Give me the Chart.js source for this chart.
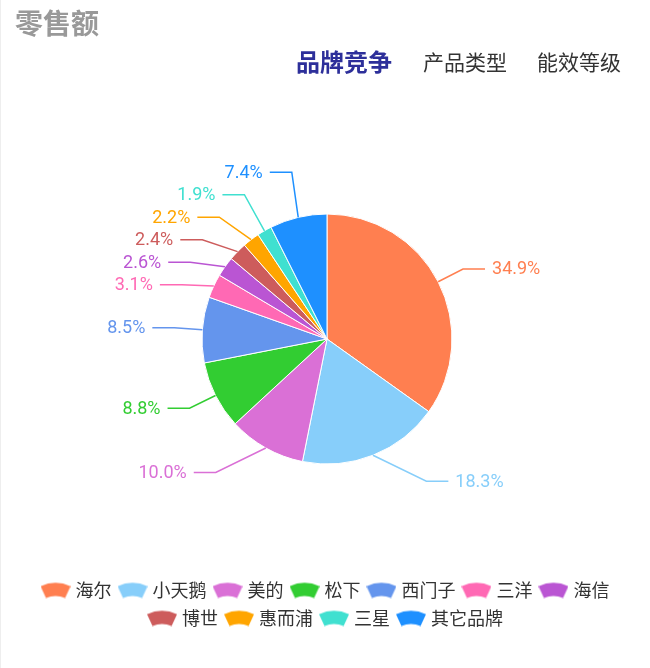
<!DOCTYPE html>
<html>
<head>
<meta charset="utf-8">
<script src="https://cdn.jsdelivr.net/npm/chart.js@4.4.1/dist/chart.umd.min.js"></script>
<style>
  html, body { margin: 0; padding: 0; background: #fff; }
  #wrap { position: relative; width: 650px; height: 668px; border-left: 1px solid #eee; box-sizing: border-box; }
  #chartBox { position: absolute; left: 0; top: 0; width: 650px; height: 668px; }
  .title { position: absolute; left: 14px; top: 8px; font: bold 28px/28px 'Noto Sans CJK SC', sans-serif; color: #999; }
  .tabs { position: absolute; right: 29px; top: 49px; display: flex; gap: 30px; align-items: center; height: 24px;
          font-family: 'Noto Sans CJK SC', sans-serif; color: #333; font-size: 21px; line-height: 24px; }
  .tabs .on { font-size: 24px; font-weight: bold; color: #2d2f9a; margin-right: 1px; }
</style>
</head>
<body>
<div id="wrap">
  <div id="chartBox"><canvas id="pieChart"></canvas></div>
  <div class="title">零售额</div>
  <div class="tabs"><span class="on">品牌竞争</span><span>产品类型</span><span>能效等级</span></div>
</div>
<script>
// 品牌份额（%）
var brands = ['海尔', '小天鹅', '美的', '松下', '西门子', '三洋', '海信', '博世', '惠而浦', '三星', '其它品牌'];
var shares = [34.9, 18.3, 10.0, 8.8, 8.5, 3.1, 2.6, 2.4, 2.2, 1.9, 7.4];
var colors = ['#ff7f50', '#87cefa', '#da70d6', '#32cd32', '#6495ed', '#ff69b4', '#ba55d3', '#cd5c5c', '#ffa500', '#40e0d0', '#1e90ff'];

var LEN1 = 28, LEN2 = 22, TEXT_GAP = 7, ROW_GAP = 22.5, MAX_SLOPE = Math.tan(26 * Math.PI / 180);

// fan shaped legend icon
function fanIcon(color) {
    var c = document.createElement('canvas');
    c.width = 30; c.height = 17;
    var g = c.getContext('2d');
    var cx = 15, cy = 37.5, a = 24.6 * Math.PI / 180;
    g.fillStyle = color;
    g.beginPath();
    g.arc(cx, cy, 36, -Math.PI / 2 - a, -Math.PI / 2 + a);
    g.arc(cx, cy, 23, -Math.PI / 2 + a, -Math.PI / 2 - a, true);
    g.closePath();
    g.fill();
    return c;
}
var icons = colors.map(fanIcon);

// spread labels of one side so they don't overlap, returns true if anything moved
function spread(list) {
    var groups = list.map(function (it) { return { items: [it], top: it.ky }; });
    var merged = true;
    while (merged) {
        merged = false;
        for (var g = 0; g < groups.length - 1; g++) {
            var a = groups[g], b = groups[g + 1];
            if (a.top + a.items.length * ROW_GAP > b.top) {
                var items = a.items.concat(b.items);
                var sum = 0;
                items.forEach(function (it, k) { sum += it.ky - k * ROW_GAP; });
                groups.splice(g, 2, { items: items, top: sum / items.length });
                merged = true;
                break;
            }
        }
    }
    var moved = false;
    groups.forEach(function (g) {
        g.items.forEach(function (it, k) {
            var y = g.top + k * ROW_GAP;
            if (Math.abs(y - it.ky) > 0.5) moved = true;
            it.ly = y;
        });
    });
    return moved;
}

var labelPlugin = {
    id: 'sliceLabels',
    afterDatasetsDraw: function (chart) {
        var ctx = chart.ctx;
        var arcs = chart.getDatasetMeta(0).data;
        var items = arcs.map(function (arc, i) {
            var ang = (arc.startAngle + arc.endAngle) / 2;
            var ux = Math.cos(ang), uy = Math.sin(ang);
            var r = arc.outerRadius;
            return {
                i: i, cx: arc.x, cy: arc.y, r: r, side: ux < 0 ? -1 : 1,
                x0: arc.x + r * ux, y0: arc.y + r * uy,
                kx: arc.x + (r + LEN1) * ux, ky: arc.y + (r + LEN1) * uy
            };
        });
        [-1, 1].forEach(function (side) {
            var list = items.filter(function (it) { return it.side === side; })
                .sort(function (a, b) { return a.ky - b.ky; });
            if (!list.length) return;
            var cx = list[0].cx, cy = list[0].cy, rA = list[0].r + LEN1;
            var moved = spread(list);
            list.forEach(function (it) { it.lx = it.kx; });
            if (moved) {
                // put the knees of each half on an ellipse through the outermost label
                [true, false].forEach(function (top) {
                    var semi = list.filter(function (it) { return (it.ly < cy) === top; });
                    if (!semi.length) return;
                    var far = semi.reduce(function (m, it) { return Math.abs(it.ly - cy) > Math.abs(m.ly - cy) ? it : m; });
                    var dx = far.kx - cx, dy = far.ly - cy;
                    var rB = Math.abs(dx) < rA ? Math.abs(dy) / Math.sqrt(1 - dx * dx / (rA * rA)) : rA;
                    semi.forEach(function (it) {
                        var d = it.ly - cy;
                        it.lx = cx + side * rA * Math.sqrt(Math.max(0, 1 - d * d / (rB * rB)));
                    });
                });
            }
            // keep the first segment of lower labels from getting too steep
            list.forEach(function (it) {
                if (it.ly <= cy) return;
                var h = it.ly - it.y0, w = Math.abs(it.lx - it.x0);
                if (h > w * MAX_SLOPE) it.lx = it.x0 + side * h / MAX_SLOPE;
            });
        });

        ctx.save();
        ctx.font = '18px Roboto, sans-serif';
        ctx.textBaseline = 'middle';
        ctx.lineWidth = 1.5;
        items.forEach(function (it) {
            var col = colors[it.i];
            var ex = it.lx + it.side * LEN2;
            ctx.strokeStyle = col;
            ctx.beginPath();
            ctx.moveTo(it.x0, it.y0);
            ctx.lineTo(it.lx, it.ly);
            ctx.lineTo(ex, it.ly);
            ctx.stroke();
            ctx.fillStyle = col;
            ctx.textAlign = it.side > 0 ? 'left' : 'right';
            ctx.fillText(shares[it.i].toFixed(1) + '%', ex + it.side * TEXT_GAP, it.ly + 1);
        });
        ctx.restore();
    }
};

var baseLabels = Chart.overrides.pie.plugins.legend.labels.generateLabels;

var ctx = document.getElementById('pieChart');
var pieChart = new Chart(ctx, {
    type: 'pie',
    data: {
        labels: brands,
        datasets: [{
            data: shares,
            backgroundColor: colors,
            borderColor: '#fff',
            borderWidth: 1
        }]
    },
    options: {
        responsive: true,
        maintainAspectRatio: false,
        animation: false,
        radius: 125,
        layout: { padding: { top: 107, bottom: 31, left: 2, right: 0 } },
        plugins: {
            tooltip: { enabled: false },
            legend: {
                position: 'bottom',
                labels: {
                    usePointStyle: true,
                    pointStyleWidth: 22,
                    padding: 10,
                    color: '#333',
                    font: { family: "'Noto Sans CJK SC', sans-serif", size: 18 },
                    generateLabels: function (chart) {
                        return baseLabels(chart).map(function (item) {
                            item.pointStyle = icons[item.index];
                            return item;
                        });
                    }
                }
            }
        }
    },
    plugins: [labelPlugin]
});
</script>
</body>
</html>
